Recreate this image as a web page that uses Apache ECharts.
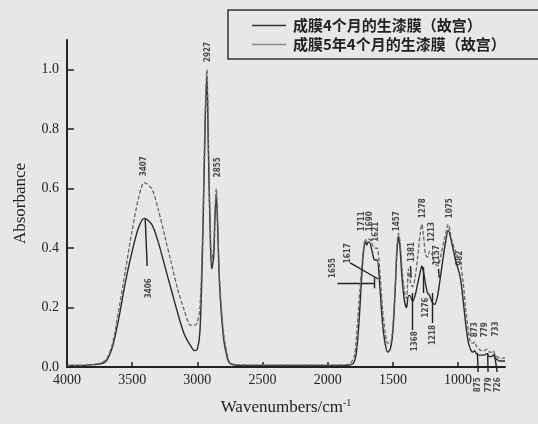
<!DOCTYPE html>
<html><head><meta charset="utf-8">
<script src="https://cdn.jsdelivr.net/npm/echarts@6/dist/echarts.min.js"></script>
<style>html,body{margin:0;padding:0;background:#e7e7e5}#c{width:538px;height:424px}</style>
</head><body><div id="c"></div>
<script>
const seriesNames = ['成膜4个月的生漆膜（故宫）', '成膜5年4个月的生漆膜（故宫）'];
const wavenumbers = [4000,3900,3800,3750,3700,3650,3600,3550,3500,3450,3407,3350,3300,3250,3200,3150,3100,3050,3020,3000,2980,2960,2940,2927,2915,2900,2890,2875,2865,2855,2845,2830,2800,2770,2750,2700,2500,2000,1850,1800,1780,1760,1740,1725,1711,1700,1690,1680,1655,1640,1621,1600,1580,1560,1540,1520,1500,1480,1470,1457,1445,1430,1410,1395,1381,1368,1350,1330,1310,1290,1278,1265,1250,1235,1218,1200,1180,1157,1130,1100,1075,1050,1020,1000,982,960,940,920,900,885,873,860,840,820,800,779,760,745,733,715,700,680,660,640];
const abs4Months = [0.005,0.005,0.008,0.01,0.02,0.07,0.17,0.29,0.39,0.47,0.50,0.48,0.42,0.34,0.26,0.18,0.11,0.07,0.055,0.06,0.12,0.40,0.82,0.98,0.72,0.42,0.33,0.37,0.50,0.58,0.48,0.28,0.10,0.03,0.012,0.006,0.005,0.005,0.006,0.015,0.05,0.15,0.30,0.39,0.42,0.41,0.42,0.42,0.38,0.36,0.36,0.27,0.15,0.08,0.05,0.06,0.12,0.28,0.38,0.44,0.40,0.30,0.22,0.20,0.24,0.24,0.22,0.24,0.28,0.32,0.34,0.32,0.28,0.25,0.24,0.22,0.21,0.24,0.32,0.41,0.46,0.42,0.36,0.33,0.30,0.22,0.14,0.08,0.055,0.05,0.055,0.045,0.04,0.04,0.04,0.045,0.035,0.035,0.04,0.03,0.025,0.02,0.02,0.02];
const abs5Years = [0.005,0.005,0.008,0.012,0.025,0.08,0.20,0.33,0.46,0.57,0.62,0.60,0.53,0.44,0.35,0.26,0.19,0.14,0.14,0.15,0.20,0.45,0.85,1.00,0.75,0.45,0.36,0.40,0.52,0.60,0.50,0.30,0.12,0.04,0.015,0.008,0.006,0.006,0.008,0.03,0.10,0.22,0.33,0.40,0.43,0.42,0.43,0.43,0.41,0.40,0.40,0.32,0.20,0.12,0.08,0.08,0.14,0.30,0.40,0.45,0.42,0.33,0.25,0.23,0.33,0.29,0.27,0.30,0.37,0.45,0.48,0.44,0.38,0.37,0.39,0.38,0.35,0.34,0.38,0.44,0.48,0.43,0.39,0.37,0.35,0.28,0.19,0.12,0.08,0.08,0.085,0.07,0.06,0.055,0.055,0.06,0.05,0.05,0.055,0.04,0.035,0.03,0.03,0.03];
const xTicks = [1000,1500,2000,2500,3000,3500,4000];
const yTicks = [0,0.2,0.4,0.6,0.8,1.0];
// peak labels: [text, wavenumber, absorbance]
const peakLabels = [
  ['3407',3407,0.675],['3406',3375,0.265],['2927',2920,1.06],['2855',2841,0.672],
  ['1711',1736,0.49],['1690',1675,0.49],['1621',1629,0.455],['1617',1843,0.383],['1655',1959,0.333],
  ['1457',1467,0.49],['1381',1352,0.387],['1278',1268,0.534],['1213',1199,0.454],['1157',1160,0.376],
  ['1075',1061,0.534],['982',984,0.366],['1368',1329,0.087],['1276',1245,0.2],['1218',1191,0.108],
  ['873',869,0.125],['779',792,0.125],['733',708,0.128],
  ['875',846,-0.06],['779',762,-0.06],['726',693,-0.06]
];
// leader lines: [w1, a1, w2, a2]
const leaderLines = [
  [3400,0.50,3385,0.34],
  [1925,0.282,1640,0.282],[1640,0.30,1640,0.265],
  [1828,0.35,1613,0.296],
  [1352,0.249,1352,0.124],[1268,0.336,1268,0.249],[1199,0.249,1199,0.148],
  [1365,0.34,1360,0.30],[1150,0.33,1145,0.30],
  [852,0.047,846,-0.017],[773,0.047,770,-0.017],[722,0.047,700,-0.017]
];

const chart = echarts.init(document.getElementById('c'));
const serif = 'Liberation Serif';
const lineIcon = 'path://M0,0 L36,0 L36,1.6 L0,1.6 Z';
chart.setOption({
  backgroundColor: '#e7e7e5',
  animation: false,
  grid: {left: 67, right: 33, top: 40, bottom: 57},
  legend: {
    data: [{name: seriesNames[0], icon: lineIcon, itemStyle: {color: '#333'}},
           {name: seriesNames[1], icon: lineIcon, itemStyle: {color: '#8a8a8a'}}],
    orient: 'vertical', left: 228, top: 10,
    itemWidth: 34, itemHeight: 2, itemGap: 4,
    padding: [8, 90, 7, 24],
    borderColor: '#333', borderWidth: 1.5,
    textStyle: {fontFamily: 'Noto Sans CJK SC', fontSize: 15, color: '#222', fontWeight: 'bold', padding: [0,0,0,2]}
  },
  xAxis: {
    type: 'value', inverse: true, min: 640, max: 4000,
    name: 'Wavenumbers/cm{sup|-1}', nameLocation: 'middle', nameGap: 31,
    nameTextStyle: {fontFamily: serif, fontSize: 17, color: '#222',
      rich: {sup: {fontSize: 10, verticalAlign: 'top', padding: [0,0,10,0], fontFamily: serif, color: '#222'}}},
    axisLine: {lineStyle: {color: '#222', width: 2}},
    axisTick: {inside: true, length: 5, lineStyle: {color: '#222', width: 1.5}, customValues: xTicks},
    axisLabel: {fontFamily: serif, fontSize: 14, color: '#222', margin: 6, customValues: xTicks,
      formatter: v => String(v)},
    splitLine: {show: false}
  },
  yAxis: {
    type: 'value', min: 0, max: 1.1,
    name: 'Absorbance', nameLocation: 'middle', nameGap: 38,
    nameTextStyle: {fontFamily: serif, fontSize: 17, color: '#222'},
    axisLine: {show: true, lineStyle: {color: '#222', width: 2}},
    axisTick: {inside: true, length: 7, lineStyle: {color: '#222', width: 1.5}, customValues: yTicks},
    axisLabel: {fontFamily: serif, fontSize: 14, color: '#222', margin: 8, customValues: yTicks,
      formatter: v => v.toFixed(1)},
    splitLine: {show: false}
  },
  series: [
    {name: seriesNames[0], type: 'line', symbol: 'none', smooth: 0.3,
     data: wavenumbers.map((w,i) => [w, abs4Months[i]]),
     lineStyle: {color: '#2a2a2a', width: 1.4}, itemStyle: {color: '#2a2a2a'}},
    {name: seriesNames[1], type: 'line', symbol: 'none', smooth: 0.3,
     data: wavenumbers.map((w,i) => [w, abs5Years[i]]),
     lineStyle: {color: '#666', width: 1.3, type: [4,2]}, itemStyle: {color: '#777'}},
    {type: 'lines', coordinateSystem: 'cartesian2d', clip: false, polyline: false,
     data: leaderLines.map(l => ({coords: [[l[0], l[1]], [l[2], l[3]]]})),
     lineStyle: {color: '#222', width: 1.4, opacity: 1}, symbol: 'none', silent: true},
    {type: 'scatter', clip: false, symbolSize: 0, silent: true,
     data: peakLabels.map(p => ({name: p[0], value: [p[1], p[2]]})),
     label: {show: true, position: 'inside', rotate: 90, formatter: '{b}',
       fontFamily: 'DejaVu Sans Condensed, DejaVu Sans', fontSize: 8, fontWeight: 'bold', color: '#222'}}
  ]
});
</script></body></html>
